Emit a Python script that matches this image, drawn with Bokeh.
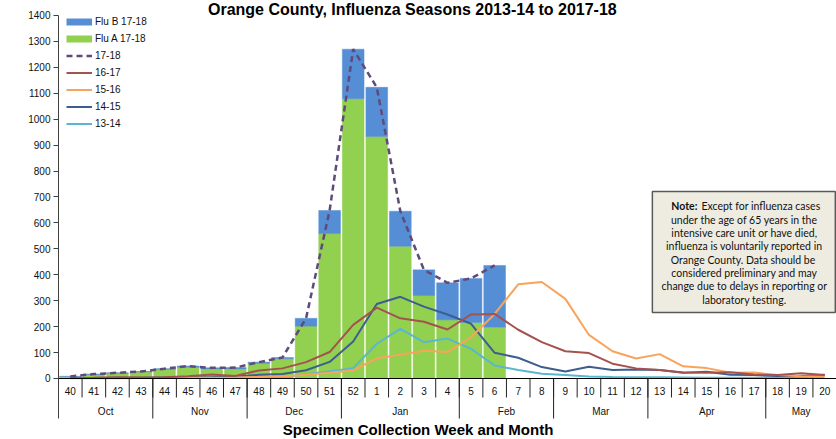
import math
import numpy as np
from bokeh.plotting import figure
from bokeh.models import (ColumnDataSource, FactorRange, Range1d, FixedTicker,
                          Legend, LegendItem, Label, BoxAnnotation)
from bokeh.core.properties import value
from bokeh.embed import file_html
from bokeh.resources import INLINE

# ---------------- data ----------------
weeks = ["40", "41", "42", "43", "44", "45", "46", "47", "48", "49", "50", "51", "52",
         "1", "2", "3", "4", "5", "6", "7", "8", "9", "10", "11", "12", "13", "14",
         "15", "16", "17", "18", "19", "20"]
months = ["Oct", "Nov", "Dec", "Jan", "Feb", "Mar", "Apr", "May"]
month_weeks = [4, 4, 4, 5, 4, 4, 5, 3]

bar_weeks = weeks[:19]
flu_a = [8, 15, 20, 25, 35, 43, 37, 37, 58, 76, 202, 559, 1079, 933, 510, 320, 226, 216, 198]
flu_b = [0, 2, 2, 2, 3, 5, 4, 5, 5, 5, 30, 89, 191, 190, 135, 99, 143, 170, 238]

s1718 = [8, 17, 22, 27, 38, 48, 41, 42, 63, 81, 232, 648, 1270, 1123, 645, 419, 369, 386, 436]
s1617 = [2, 3, 5, 4, 5, 9, 15, 10, 31, 39, 63, 102, 207,
         273, 232, 219, 189, 247, 249, 188, 140, 105, 98, 57, 39, 33, 23, 22, 24, 15, 13, 20, 13]
s1516 = [1, 1, 1, 2, 2, 3, 3, 4, 6, 8, 14, 22, 31,
         78, 92, 107, 102, 159, 249, 363, 372, 307, 168, 105, 77, 94, 47, 40, 22, 23, 13, 9, 8]
s1415 = [2, 2, 3, 3, 4, 5, 6, 8, 14, 17, 32, 64, 143,
         287, 315, 277, 247, 211, 99, 80, 44, 27, 45, 33, 35, 33, 22, 26, 14, 13, 10, 10, 14]
s1314 = [2, 2, 2, 2, 3, 3, 3, 3, 4, 5, 16, 28, 40,
         134, 191, 140, 154, 114, 50, 33, 18, 13, 8, 6, 5, 5, 4, 3, 3, 3, 3, 2, 2]

yticks = list(range(0, 1401, 100))

title_text = "Orange County, Influenza Seasons 2013-14 to 2017-18"
ytitle = "Number of Reported Cases"
xtitle = "Specimen Collection Week and Month"
note_bold = "Note:"
note_first = "Except for influenza cases"
note_lines = ["under the age of 65 years in the",
              "intensive care unit or have died,",
              "influenza is voluntarily reported in",
              "Orange County.  Data should be",
              "considered preliminary and may",
              "change due to delays in reporting or",
              "laboratory testing."]

# ---------------- style ----------------
FONT = "Liberation Sans"
GREEN = "#92D050"
BLUE = "#558ED5"
C1718 = "#604A7B"
C1617 = "#A5524E"
C1516 = "#F9A35B"
C1415 = "#3E5E8E"
C1314 = "#5BB6CF"

p = figure(width=836, height=439,
           x_range=FactorRange(factors=weeks),
           y_range=Range1d(-235.3, 1457.8),
           x_axis_location=None,
           output_backend="svg", toolbar_location=None,
           min_border_left=58, min_border_right=0,
           min_border_top=0, min_border_bottom=0)
p.outline_line_color = None
p.grid.visible = False
p.background_fill_color = "white"

ya = p.yaxis[0]
ya.ticker = FixedTicker(ticks=yticks)
ya.bounds = (-154.3, 1400)
ya.minor_tick_line_color = None
ya.major_tick_out = 5
ya.major_tick_in = 0
ya.major_label_standoff = 3
ya.major_label_text_font = FONT
ya.major_label_text_font_size = "10px"
ya.major_label_text_color = "#111111"
ya.axis_line_color = "#404040"
ya.major_tick_line_color = "#404040"

# bars
bar_src = ColumnDataSource(dict(week=bar_weeks, flu_a=flu_a, flu_b=flu_b))
p.vbar_stack(["flu_a", "flu_b"], x="week", width=0.92,
             fill_color=[GREEN, BLUE], line_color=[GREEN, BLUE], line_width=0.5,
             source=bar_src)

# season lines
r1314 = p.line(x=weeks[:len(s1314)], y=s1314, line_color=C1314, line_width=2)
r1415 = p.line(x=weeks[:len(s1415)], y=s1415, line_color=C1415, line_width=2)
r1516 = p.line(x=weeks[:len(s1516)], y=s1516, line_color=C1516, line_width=2)
r1617 = p.line(x=weeks[:len(s1617)], y=s1617, line_color=C1617, line_width=2)
r1718 = p.line(x=weeks[:len(s1718)], y=s1718, line_color=C1718, line_width=2.5,
               line_dash="6 4")

# category axis drawn as a table under the plot
bounds = np.cumsum([0] + month_weeks)
week_bounds = list(range(1, len(weeks)))
month_bounds = [float(b) for b in bounds[1:-1]]
month_x = [(bounds[i] + bounds[i + 1]) / 2 for i in range(len(months))]

p.segment(x0=week_bounds, y0=0, x1=week_bounds, y1=-73.3, line_color="#222222", line_width=1)
p.segment(x0=month_bounds, y0=0, x1=month_bounds, y1=-154.3, line_color="#222222", line_width=1)
p.segment(x0=[0], y0=[0], x1=[len(weeks)], y1=[0], line_color="black", line_width=1.2)

p.text(x=weeks, y=-50.1, text=weeks, text_align="center", text_baseline="middle",
       text_font=value(FONT), text_font_size="10px", text_color="#111111")
p.text(x=month_x, y=-127.3, text=months, text_align="center", text_baseline="middle",
       text_font=value(FONT), text_font_size="10px", text_color="#111111")

# legend (swatches for the bar series drawn as thick line samples)
sw_b = p.line(x=[weeks[0]], y=[float("nan")], line_color=BLUE, line_width=7)
sw_a = p.line(x=[weeks[0]], y=[float("nan")], line_color=GREEN, line_width=7)
legend = Legend(items=[
    LegendItem(label="Flu B 17-18", renderers=[sw_b]),
    LegendItem(label="Flu A 17-18", renderers=[sw_a]),
    LegendItem(label="17-18", renderers=[r1718]),
    LegendItem(label="16-17", renderers=[r1617]),
    LegendItem(label="15-16", renderers=[r1516]),
    LegendItem(label="14-15", renderers=[r1415]),
    LegendItem(label="13-14", renderers=[r1314]),
], location=(8, 307.5), orientation="vertical",
    glyph_width=26, glyph_height=17, label_height=17, spacing=0,
    padding=0, margin=0, label_standoff=3,
    label_text_font=FONT, label_text_font_size="10px", label_text_color="#111111",
    border_line_color=None, background_fill_alpha=0)
p.add_layout(legend)

# titles
p.add_layout(Label(x=15.01, y=1423, text=title_text, text_align="center",
                   text_baseline="middle", text_font=FONT, text_font_size="16px",
                   text_font_style="bold", text_color="black"))
p.add_layout(Label(x=-1.82, y=694.2, text=ytitle, angle=math.pi / 2,
                   text_align="center", text_baseline="middle", text_font=FONT,
                   text_font_size="15px", text_font_style="bold", text_color="black"))
p.add_layout(Label(x=15.25, y=-196.5, text=xtitle, text_align="center",
                   text_baseline="middle", text_font=FONT, text_font_size="15px",
                   text_font_style="bold", text_color="black"))

# note box
p.add_layout(BoxAnnotation(left=25.19, right=32.95, top=721.2, bottom=254.5,
                           fill_color="#EEECE1", fill_alpha=1,
                           line_color="#595959", line_width=1.5, line_alpha=1))
NOTE_FONT = "Lato"
NOTE_SIZE = "10.5px"
line_y0 = 663.4
line_step = 51.4
p.add_layout(Label(x=27.1, y=line_y0, text=note_bold, text_align="right",
                   text_baseline="middle", text_font=NOTE_FONT, text_font_size=NOTE_SIZE,
                   text_font_style="bold", text_color="#111111"))
p.add_layout(Label(x=27.27, y=line_y0, text=note_first, text_align="left",
                   text_baseline="middle", text_font=NOTE_FONT, text_font_size=NOTE_SIZE,
                   text_color="#111111"))
for i, t in enumerate(note_lines):
    p.add_layout(Label(x=29.09, y=line_y0 - (i + 1) * line_step, text=t,
                       text_align="center", text_baseline="middle",
                       text_font=NOTE_FONT, text_font_size=NOTE_SIZE, text_color="#111111"))

open("out.html", "w").write(file_html(p, INLINE))
